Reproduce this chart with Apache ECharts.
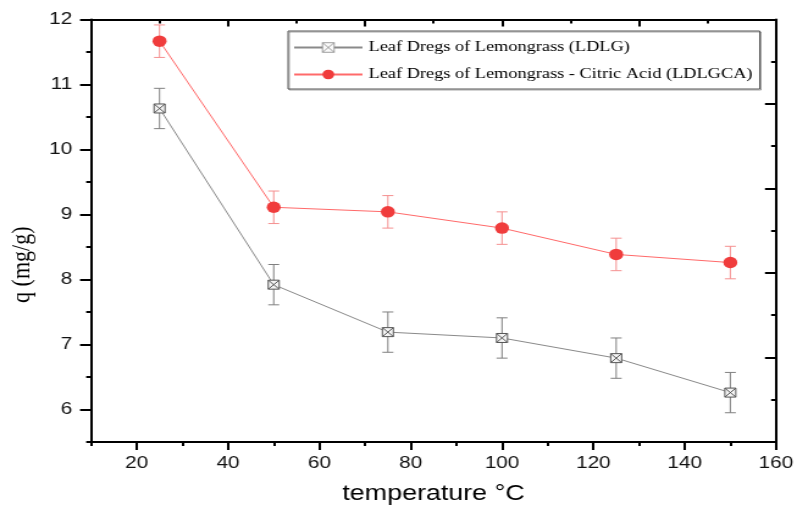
<!DOCTYPE html>
<html>
<head>
<meta charset="utf-8">
<script src="https://cdn.jsdelivr.net/npm/echarts@6/dist/echarts.min.js"></script>
<style>
  html, body { margin: 0; padding: 0; background: #fff; overflow: hidden; }
  #wrap { width: 797px; height: 510px; overflow: hidden; }
  /* the figure is drawn narrow and widened horizontally */
  #chart { width: 653px; height: 510px; transform: scaleX(1.2205); transform-origin: 0 0; }
</style>
</head>
<body>
<div id="wrap"><div id="chart"></div></div>
<script>
// Adsorption capacity q (mg/g) against temperature
const temperatures = [25, 50, 75, 100, 125, 150];

const nameLDLG = 'Leaf Dregs of Lemongrass (LDLG)';
const qLDLG = [10.63, 7.92, 7.19, 7.10, 6.79, 6.26];
const errLDLG = [0.31, 0.31, 0.31, 0.31, 0.31, 0.31];

const nameLDLGCA = 'Leaf Dregs of Lemongrass - Citric Acid (LDLGCA)';
const qLDLGCA = [11.665, 9.11, 9.04, 8.79, 8.385, 8.26];
const errLDLGCA = [0.25, 0.25, 0.25, 0.25, 0.25, 0.25];

// tick values
const xMajorTicks = [20, 40, 60, 80, 100, 120, 140, 160];
const xMinorTicks = [10, 30, 50, 70, 90, 110, 130, 150];
const yMajorTicks = [6, 7, 8, 9, 10, 11, 12];
const yMinorTicks = [5.5, 6.5, 7.5, 8.5, 9.5, 10.5, 11.5];

const xName = 'temperature °C';
const yName = 'q (mg/g)';

const boxCross = 'path://M0,0H10V10H0Z M0,0L10,10 M10,0L0,10';

function errorBars(values, errors, color) {
  return {
    type: 'custom',
    xAxisIndex: 0,
    yAxisIndex: 0,
    silent: true,
    z: 1,
    data: temperatures.map((t, i) => [t, values[i] - errors[i], values[i] + errors[i]]),
    renderItem(params, api) {
      const lo = api.coord([api.value(0), api.value(1)]);
      const hi = api.coord([api.value(0), api.value(2)]);
      const hw = 4.5;
      const style = { stroke: color, lineWidth: 1, fill: null };
      return {
        type: 'group',
        children: [
          { type: 'line', shape: { x1: hi[0], y1: hi[1], x2: lo[0], y2: lo[1] }, style },
          { type: 'line', shape: { x1: hi[0] - hw, y1: hi[1], x2: hi[0] + hw, y2: hi[1] }, style },
          { type: 'line', shape: { x1: lo[0] - hw, y1: lo[1], x2: lo[0] + hw, y2: lo[1] }, style }
        ]
      };
    }
  };
}

const axisLine = { show: true, lineStyle: { color: '#000', width: 2 } };
const tickStyle = { color: '#000', width: 2 };

const chart = echarts.init(document.getElementById('chart'), null, { renderer: 'canvas' });

chart.setOption({
  animation: false,
  backgroundColor: '#fff',
  grid: { left: 74.6, right: 17.2, top: 19.4, bottom: 68, outerBoundsMode: 'none' },
  legend: {
    data: [
      { name: nameLDLG, itemStyle: { color: '#fafafa', borderColor: '#888', borderWidth: 0.8 } },
      { name: nameLDLGCA }
    ],
    orient: 'vertical',
    left: 236,
    top: 31,
    itemWidth: 56,
    itemHeight: 12,
    itemGap: 12,
    padding: [9, 6, 7, 4],
    borderColor: '#555',
    borderWidth: 1,
    shadowColor: 'rgba(0,0,0,0.35)',
    shadowOffsetX: 1,
    shadowOffsetY: 1,
    shadowBlur: 0,
    textStyle: { fontFamily: 'Liberation Serif', fontSize: 15, color: '#000' }
  },
  xAxis: [
    {
      type: 'value', position: 'bottom', min: 10, max: 160,
      name: xName, nameLocation: 'middle', nameGap: 41,
      nameTextStyle: { fontFamily: 'Liberation Sans', fontSize: 22, color: '#000' },
      axisLine,
      axisTick: { show: true, length: 8, lineStyle: tickStyle, customValues: xMajorTicks },
      axisLabel: { customValues: xMajorTicks, fontFamily: 'Liberation Sans', fontSize: 17, color: '#111', margin: 13 },
      splitLine: { show: false }
    },
    {
      type: 'value', position: 'bottom', min: 10, max: 160,
      axisLine: { show: false },
      axisTick: { show: true, length: 4, lineStyle: tickStyle, customValues: xMinorTicks },
      axisLabel: { show: false },
      splitLine: { show: false }
    },
    {
      type: 'value', position: 'top', min: 0, max: 5, interval: 1,
      axisLine,
      axisTick: { show: true, inside: true, length: 7, lineStyle: tickStyle },
      minorTick: { show: true, splitNumber: 2, length: 4, lineStyle: tickStyle },
      axisLabel: { show: false },
      splitLine: { show: false }
    }
  ],
  yAxis: [
    {
      type: 'value', position: 'left', min: 5.5, max: 12,
      name: yName, nameLocation: 'middle', nameGap: 29,
      nameTextStyle: { fontFamily: 'Liberation Serif', fontSize: 22, color: '#000', padding: [0, 68, 0, 0] },
      axisLine,
      axisTick: { show: true, length: 9, lineStyle: tickStyle, customValues: yMajorTicks },
      axisLabel: { customValues: yMajorTicks, fontFamily: 'Liberation Sans', fontSize: 17, color: '#111', margin: 15.5 },
      splitLine: { show: false }
    },
    {
      type: 'value', position: 'left', min: 5.5, max: 12,
      axisLine: { show: false },
      axisTick: { show: true, length: 4, lineStyle: tickStyle, customValues: yMinorTicks },
      axisLabel: { show: false },
      splitLine: { show: false }
    },
    {
      type: 'value', position: 'right', min: 0, max: 5, interval: 1,
      axisLine,
      axisTick: { show: true, inside: true, length: 9, lineStyle: tickStyle },
      minorTick: { show: true, splitNumber: 2, length: 4, lineStyle: tickStyle },
      axisLabel: { show: false },
      splitLine: { show: false }
    }
  ],
  series: [
    errorBars(qLDLG, errLDLG, '#808080'),
    errorBars(qLDLGCA, errLDLGCA, '#f59090'),
    {
      type: 'line', name: nameLDLG, xAxisIndex: 0, yAxisIndex: 0, z: 3,
      data: temperatures.map((t, i) => [t, qLDLG[i]]),
      symbol: boxCross, symbolSize: 9,
      lineStyle: { color: '#8a8a8a', width: 1 },
      itemStyle: { color: '#f4f4f4', borderColor: '#555', borderWidth: 1 }
    },
    {
      type: 'line', name: nameLDLGCA, xAxisIndex: 0, yAxisIndex: 0, z: 3,
      data: temperatures.map((t, i) => [t, qLDLGCA[i]]),
      symbol: 'circle', symbolSize: 11.5,
      lineStyle: { color: '#ff6a6a', width: 1 },
      itemStyle: { color: '#f03c3c' }
    }
  ]
});
</script>
</body>
</html>
